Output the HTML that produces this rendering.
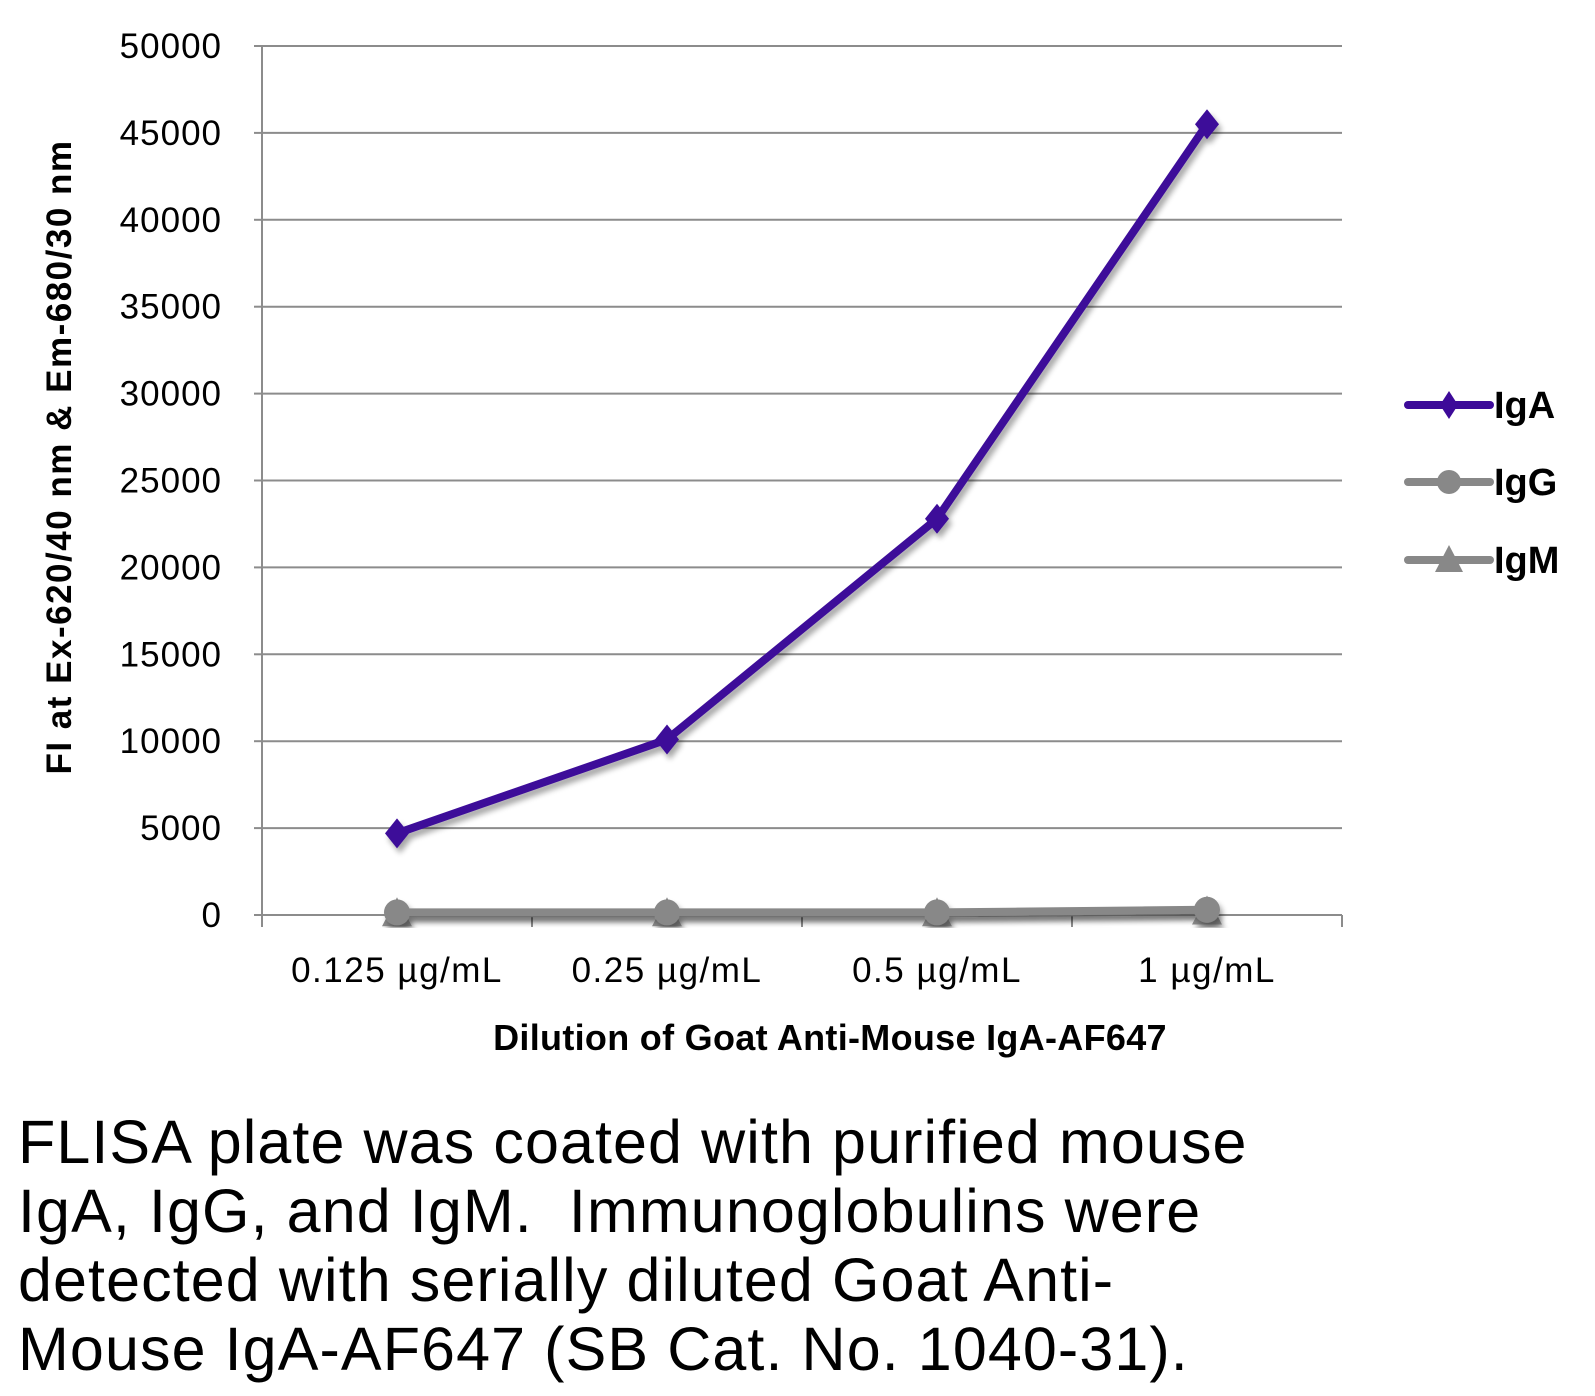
<!DOCTYPE html>
<html><head><meta charset="utf-8"><style>
body{margin:0;background:#fff;width:1595px;height:1396px;overflow:hidden;font-family:"Liberation Sans",sans-serif}
#cap{position:absolute;left:18px;top:1108px;font-size:61px;line-height:69px;letter-spacing:1.1px;color:#000;white-space:nowrap}
</style></head><body>
<svg id="chart" width="1595" height="1100" style="position:absolute;left:0;top:0" font-family="Liberation Sans, sans-serif">
<defs><filter id="sh" x="-5%" y="-5%" width="110%" height="110%"><feGaussianBlur in="SourceAlpha" stdDeviation="3"/><feOffset dx="3" dy="5"/><feComponentTransfer><feFuncA type="linear" slope="0.35"/></feComponentTransfer><feMerge><feMergeNode/><feMergeNode in="SourceGraphic"/></feMerge></filter></defs>
<g id="grid"></g><g id="axes"></g><g id="series"></g>
<text transform="translate(71,457) rotate(-90)" text-anchor="middle" font-size="35" font-weight="bold" letter-spacing="1.5">FI at Ex-620/40 nm &amp; Em-680/30 nm</text>
<text x="830" y="1050" text-anchor="middle" font-size="36" font-weight="bold" letter-spacing="0.3">Dilution of Goat Anti-Mouse IgA-AF647</text>
<g>
<line x1="1408" y1="405" x2="1490" y2="405" stroke="#3d0a99" stroke-width="8" stroke-linecap="round"/><path d="M1449 391 L1458 405 L1449 419 L1440 405Z" fill="#3d0a99"/><text x="1494" y="418" font-size="38" font-weight="bold">IgA</text>
<line x1="1408" y1="482" x2="1490" y2="482" stroke="#888" stroke-width="8" stroke-linecap="round"/><circle cx="1449" cy="482" r="12" fill="#888"/><text x="1494" y="495" font-size="38" font-weight="bold">IgG</text>
<line x1="1408" y1="560" x2="1490" y2="560" stroke="#888" stroke-width="8" stroke-linecap="round"/><path d="M1449 545 L1463 572 L1435 572Z" fill="#888"/><text x="1494" y="573" font-size="38" font-weight="bold">IgM</text>
</g>
</svg>
<div id="cap">FLISA plate was coated with purified mouse<br>IgA, IgG, and IgM.&nbsp; Immunoglobulins were<br>detected with serially diluted Goat Anti-<br>Mouse IgA-AF647 (SB Cat. No. 1040-31).</div>
<script>
const categories=["0.125 µg/mL","0.25 µg/mL","0.5 µg/mL","1 µg/mL"];
const igaValues=[4700,10100,22800,45500];
const iggValues=[150,150,150,300];
const igmValues=[100,100,100,200];
const yTicks=[0,5000,10000,15000,20000,25000,30000,35000,40000,45000,50000];
const NS="http://www.w3.org/2000/svg";
const X0=262,X1=1342,Y0=915,Y1=46,YMAX=50000;
const bw=(X1-X0)/categories.length;
const xs=i=>X0+bw*(i+0.5);
const ys=v=>Y0-(v/YMAX)*(Y0-Y1);
function mk(t,a,p){const e=document.createElementNS(NS,t);for(const k in a)e.setAttribute(k,a[k]);p.appendChild(e);return e;}
const grid=document.getElementById('grid'),axes=document.getElementById('axes'),ser=document.getElementById('series');
yTicks.forEach(v=>{
 if(v>0){const l=mk('line',{x1:X0,x2:X1,y1:ys(v),y2:ys(v),stroke:'#8c8c8c','stroke-width':2},grid);
 
 }
 const t=mk('text',{x:X0-40,y:ys(v)+12,'text-anchor':'end','font-size':35,'letter-spacing':1},axes);t.textContent=v;
 
 
 mk('line',{x1:X0-8,x2:X0,y1:ys(v),y2:ys(v),stroke:'#8c8c8c','stroke-width':2},axes);
});
mk('line',{x1:X0,x2:X0,y1:Y1,y2:Y0,stroke:'#8c8c8c','stroke-width':2},axes);
mk('line',{x1:X0,x2:X1,y1:Y0,y2:Y0,stroke:'#8c8c8c','stroke-width':2},axes);
for(let i=0;i<=categories.length;i++)mk('line',{x1:X0+bw*i,x2:X0+bw*i,y1:Y0,y2:Y0+12,stroke:'#8c8c8c','stroke-width':2},axes);
categories.forEach((c,i)=>{const t=mk('text',{x:xs(i),y:Y0+67,'text-anchor':'middle','font-size':35,'letter-spacing':1.5},axes);t.textContent=c;
 
 });
function series(vals,color,shape,name){
 const g=mk('g',{filter:'url(#sh)'},ser);
 
 
 mk('polyline',{points:vals.map((v,i)=>xs(i)+','+ys(v)).join(' '),fill:'none',stroke:color,'stroke-width':8,'stroke-linejoin':'round'},g);
 vals.forEach((v,i)=>{const x=xs(i),y=ys(v);let m;
  if(shape==='d')m=mk('path',{d:`M${x} ${y-15}L${x+12} ${y}L${x} ${y+15}L${x-12} ${y}Z`,fill:color},g);
  else if(shape==='c')m=mk('circle',{cx:x,cy:y,r:13,fill:color},g);
  else m=mk('path',{d:`M${x} ${y-16}L${x+15} ${y+13}L${x-15} ${y+13}Z`,fill:color},g);
  
  });
}
series(igmValues,'#888','t','series-igm');
series(iggValues,'#888','c','series-igg');
series(igaValues,'#3d0a99','d','series-iga');
</script>
</body></html>
